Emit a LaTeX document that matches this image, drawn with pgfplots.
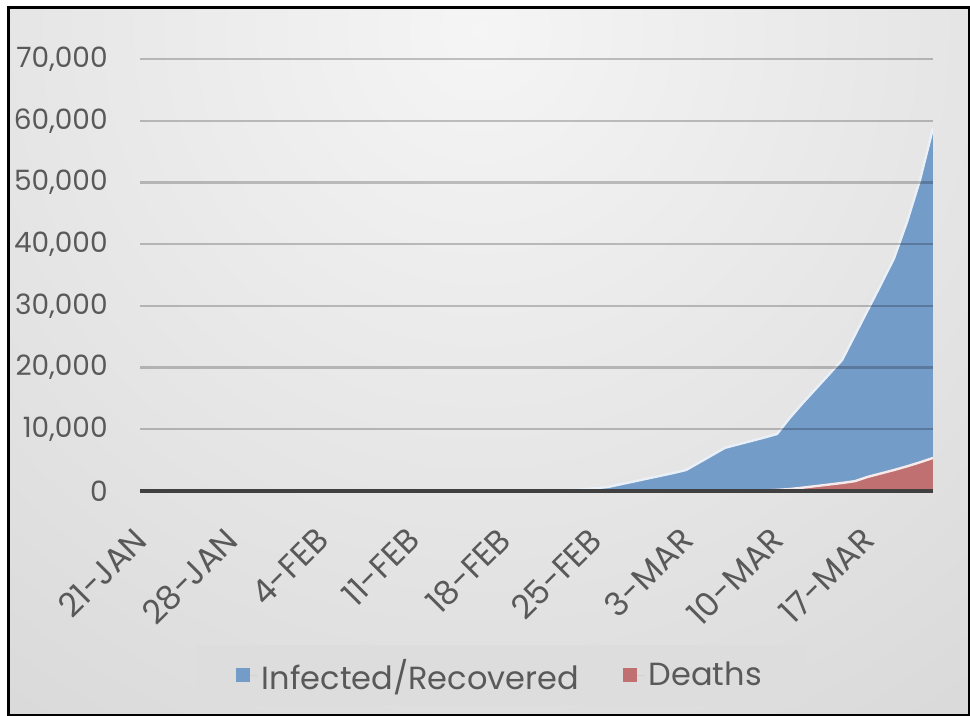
\documentclass[border=0pt]{standalone}
\usepackage{pgfplots}
\usepackage{fontspec}
\pgfplotsset{compat=1.18}
\setmainfont{Poppins}

\definecolor{txt}{RGB}{89,89,89}
\definecolor{cblue}{RGB}{116,156,200}
\definecolor{cred}{RGB}{192,112,112}
\definecolor{legbg}{RGB}{221,221,221}

% day 0 = 21 Jan
\pgfplotstableread{
day cases
0 0
32 20
33 80
34 250
35 450
36 650
37 1100
38 1550
39 2000
40 2450
41 2900
42 3400
43 4600
44 5800
45 7000
46 7550
47 8100
48 8650
49 9240
50 11900
51 14300
52 16600
53 18900
54 21200
55 25300
56 29400
57 33500
58 37700
59 43600
60 50400
61 58800
}\cases

\pgfplotstableread{
day deaths
0 0
47 0
48 80
49 180
50 320
51 550
52 800
53 1050
54 1300
55 1600
56 2300
57 2850
58 3400
59 4000
60 4650
61 5350
}\deaths

\begin{document}
\begin{tikzpicture}
\fill[white] (0,0) rectangle (485pt,-358pt);
\begin{scope}
  \clip (4pt,-4pt) rectangle (484.5pt,-357.5pt);
  \shade[inner color=white!96!black, outer color=white!74!black] (240pt,-15pt) circle (860pt);
\end{scope}
\draw[black, line width=1.5pt] (4pt,-4pt) rectangle (484.5pt,-357.5pt);

\begin{axis}[
    at={(70pt,-245.5pt)}, anchor=south west,
    scale only axis, width=396.5pt, height=216pt,
    xmin=0, xmax=61, ymin=0, ymax=70000,
    axis on top,
    axis lines=left,
    axis line style={-},
    y axis line style={draw=none},
    x axis line style={line width=2pt, draw=black!75},
    major tick length=0pt,
    ymajorgrids,
    grid style={line width=1.2pt, black, opacity=0.22},
    ytick={0,10000,...,70000},
    scaled y ticks=false,
    /pgf/number format/.cd, fixed, 1000 sep={,}, assume math mode=true, /pgfplots/.cd,
    yticklabel style={font=\fontsize{14}{17}\selectfont, text=txt, inner sep=0pt, anchor=east, xshift=-16pt},
    xtick={0,7,...,56},
    xticklabels={21-\kern-1pt JAN,28-\kern-1pt JAN,4-FEB,11-FEB,18-FEB,25-FEB,3-MAR,10-MAR,17-MAR},
    xticklabel style={font=\fontsize{16.5}{19}\selectfont, text=txt, inner sep=0pt, xshift=-4pt, yshift=-17pt, rotate=45, anchor=north east},
    legend columns=2,
    legend style={at={(0.455,-0.427)}, anchor=center, fill=legbg, draw=none,
        font=\fontsize{16}{19}\selectfont, text=txt, inner xsep=20pt, inner ysep=5pt,
        /tikz/every even column/.append style={column sep=20pt}},
    legend image code/.code={\path (0pt,0pt) -- (11pt,0pt);
        \path[#1, draw=none] (0pt,-3.5pt) rectangle (7pt,3.5pt);},
]
\addplot[fill=cblue, draw=none] table[x=day, y=cases] {\cases} \closedcycle;
\addplot[forget plot, white!85!cblue, line width=1.2pt] table[x=day, y=cases] {\cases};
\addplot[fill=cred, draw=none] table[x=day, y=deaths] {\deaths} \closedcycle;
\addplot[forget plot, white!85!cred, line width=1.2pt] table[x=day, y=deaths] {\deaths};
\legend{Infected/Recovered, Deaths}
\end{axis}
\pgfresetboundingbox
\useasboundingbox (0,0) rectangle (485pt,-358pt);
\end{tikzpicture}
\end{document}
